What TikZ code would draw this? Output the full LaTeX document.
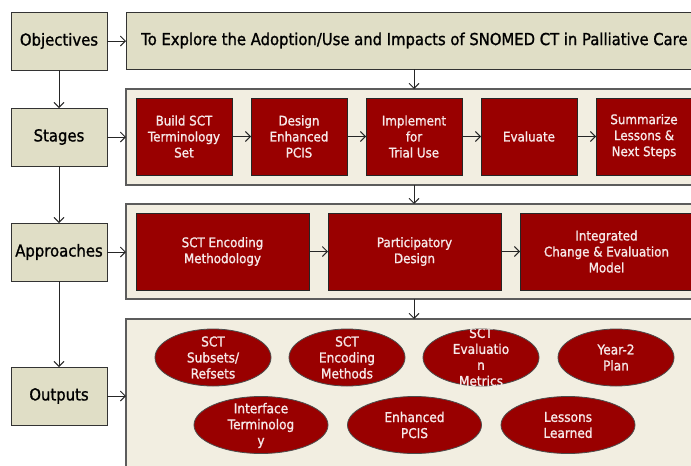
\documentclass[tikz,border=0pt]{standalone}
\usepackage{fontspec}
\setmainfont{DejaVu Sans}
\newfontfamily\labfont[FakeStretch=0.9,FakeBold=1.2]{DejaVu Sans}
\usetikzlibrary{arrows.meta,shapes.geometric}
\definecolor{beige}{HTML}{E0DEC6}
\definecolor{panel}{HTML}{F2EEE1}
\definecolor{redbox}{HTML}{990000}
\definecolor{edge}{HTML}{333333}
\definecolor{lighttxt}{HTML}{F6E8E8}
\tikzset{
  x=1pt, y=-1pt,
  leftbox/.style={draw=edge, line width=1pt, fill=beige, anchor=north west, inner sep=0pt, outer sep=0pt,
    minimum width=96pt, minimum height=58pt, font=\labfont\fontsize{16.5}{18}\selectfont, text=black},
  panelbox/.style={draw=edge!80!white, line width=1.2pt, fill=panel, anchor=north west, inner sep=0pt, outer sep=0pt, minimum width=600pt},
  titlebox/.style={draw=edge, line width=1pt, fill=beige, anchor=north west, inner sep=0pt, outer sep=0pt, minimum width=600pt, minimum height=57pt},
  titletext/.style={font=\labfont\fontsize{16.45}{18}\selectfont, text=black, anchor=west, inner sep=0pt},
  redrect/.style={draw=black!85, line width=1pt, fill=redbox, anchor=north west, inner sep=0pt, outer sep=0pt,
    minimum height=77pt, text=lighttxt, align=center, font=\labfont\fontsize{13.2}{16}\selectfont},
  redell/.style={ellipse, draw=black!70, line width=0.8pt, fill=redbox, inner sep=0pt, outer sep=0pt, minimum height=57pt},
  elltext/.style={text=lighttxt, align=center, font=\labfont\fontsize{13.5}{16}\selectfont, inner sep=0pt},
  arr/.style={draw=black!85, line width=0.9pt, -{Straight Barb[length=5pt,width=10pt]}}
}
\begin{document}
\begin{tikzpicture}
\path[use as bounding box] (0,0) rectangle (691,466);
\clip (0,0) rectangle (691,466);
\fill[white] (0,0) rectangle (691,466);
\coordinate (mid) at (414,0);
% left column
\node[leftbox] (obj) at (11,12) {Objectives};
\node[leftbox] (stg) at (11,108) {Stages};
\node[leftbox] (app) at (11,223) {Approaches};
\node[leftbox] (out) at (11,367) {Outputs};
% title
\node[titlebox] (title) at (126,12) {};
\node[titletext] (titletxt) at (141,40.5) {To Explore the Adoption/Use and Impacts of SNOMED CT in Palliative Care};
% stages panel
\node[panelbox, minimum height=96pt] (stgc) at (126,89) {};
\node[redrect, minimum width=96pt] (s1) at (136,98) {Build SCT\\Terminology\\Set};
\node[redrect, minimum width=96pt] (s2) at (251,98) {Design\\Enhanced\\PCIS};
\node[redrect, minimum width=96pt] (s3) at (366,98) {Implement\\for\\Trial Use};
\node[redrect, minimum width=96pt] (s4) at (481,98) {Evaluate};
\node[redrect, minimum width=96pt] (s5) at (596,98) {Summarize\\Lessons \&\\Next Steps};
% approaches panel
\node[panelbox, minimum height=95pt] (appc) at (126,204) {};
\node[redrect, minimum width=173pt] (a1) at (136,213) {SCT Encoding\\Methodology};
\node[redrect, minimum width=173pt] (a2) at (328,213) {Participatory\\Design};
\node[redrect, minimum width=173pt] (a3) at (520,213) {Integrated\\Change \& Evaluation\\Model};
% outputs panel
\node[panelbox, minimum height=170pt] (outc) at (126,319) {};
\node[redell, minimum width=116pt] (e1) at (213,357.5) {};
\node[redell, minimum width=116pt] (e2) at (347,357.5) {};
\node[redell, minimum width=116pt] (e3) at (481,357.5) {};
\node[redell, minimum width=116pt] (e4) at (616,357.5) {};
\node[redell, minimum width=134pt] (e5) at (261,425) {};
\node[redell, minimum width=134pt] (e6) at (414.5,425) {};
\node[redell, minimum width=134pt] (e7) at (568,425) {};
\node[elltext] (t1) at (e1) {SCT\\Subsets/\\Refsets};
\node[elltext] (t2) at (e2) {SCT\\Encoding\\Methods};
\begin{scope}
\clip (e3.west |- e3.north) rectangle (e3.east |- e3.south);
\node[elltext] (t3) at ([yshift=0.5pt]e3.center) {SCT\\Evaluatio\\n\\Metrics};
\end{scope}
\node[elltext] (t4) at (e4) {Year-2\\Plan};
\node[elltext] (t5) at ([yshift=-0.5pt]e5.center) {Interface\\Terminolog\\y};
\node[elltext] (t6) at (e6) {Enhanced\\PCIS};
\node[elltext] (t7) at (e7) {Lessons\\Learned};
% arrows left column
\draw[arr] (obj) -- (obj.east -| title.west);
\draw[arr] (obj) -- (stg);
\draw[arr] (stg) -- (app);
\draw[arr] (app) -- (out);
\draw[arr] (stg) -- (stg.east -| stgc.west);
\draw[arr] (app) -- (app.east -| appc.west);
\draw[arr] (out) -- (out.east -| outc.west);
% vertical arrows between panels
\draw[arr] (title.south -| mid) -- (stgc.north -| mid);
\draw[arr] (stgc.south -| mid) -- (appc.north -| mid);
\draw[arr] (appc.south -| mid) -- (outc.north -| mid);
% chains
\draw[arr] (s1) -- (s2);
\draw[arr] (s2) -- (s3);
\draw[arr] (s3) -- (s4);
\draw[arr] (s4) -- (s5);
\draw[arr] (a1) -- (a2);
\draw[arr] (a2) -- (a3);
\end{tikzpicture}
\end{document}
